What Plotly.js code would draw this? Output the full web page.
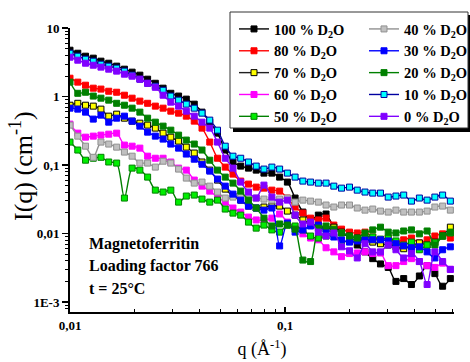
<!DOCTYPE html>
<html><head><meta charset="utf-8">
<script src="https://cdn.plot.ly/plotly-3.0.1.min.js"></script>
<style>html,body{margin:0;padding:0;background:#fff}#chart{width:470px;height:362px}</style>
</head><body><div id="chart"></div>
<script>
const Q = [0.0100,0.01087,0.01181,0.01283,0.01393,0.01514,0.01648,0.01791,0.01945,0.02113,
0.02296,0.02494,0.02710,0.02944,0.03199,0.03475,0.03784,0.04111,0.04467,0.04853,
0.05272,0.05728,0.06223,0.06761,0.07345,0.07980,0.08690,0.09441,0.1026,0.1114,
0.1211,0.1315,0.1429,0.1552,0.1687,0.1832,0.1995,0.2168,0.2355,0.2559,
0.2780,0.3020,0.3281,0.3565,0.3873,0.4217,0.4581,0.4977,0.5408,0.5875];

const I100 = [4.77,4.31,3.90,3.65,3.30,3.08,2.79,2.52,2.28,2.06,1.80,1.57,1.33,1.12,1.02,0.92,0.777,0.594,0.424,0.293,
0.166,0.111,0.0967,0.0904,0.0845,0.0764,0.0764,0.0668,0.0565,0.0330,0.0206,0.0158,0.0186,0.0193,0.0124,0.0105,0.0086,0.0068,0.0054,0.0043,
0.0036,0.0032,0.0020,0.0022,0.0018,0.0024,0.0034,0.0026,0.0017,0.0022];
const I80 = [1.86,1.63,1.47,1.33,1.29,1.20,1.16,1.05,0.95,0.86,0.80,0.727,0.679,0.614,0.574,0.519,0.439,0.347,0.217,0.126,
0.0935,0.0739,0.0584,0.0528,0.0477,0.0461,0.0431,0.0417,0.0330,0.0244,0.0199,0.0168,0.0158,0.0168,0.0133,0.0116,0.0105,0.0102,0.0105,0.0089,
0.0081,0.0086,0.0075,0.0081,0.0086,0.0073,0.0081,0.0092,0.0099,0.0086];
const I70 = [0.75,0.80,0.75,0.727,0.657,0.519,0.555,0.485,0.439,0.41,0.384,0.347,0.293,0.256,0.224,0.183,0.150,0.111,0.0845,0.0604,
0.0446,0.0353,0.0308,0.0252,0.0236,0.0244,0.0252,0.0252,0.0213,0.0186,0.0158,0.0138,0.0129,0.0116,0.0124,0.0105,0.0092,0.0086,0.0081,0.0075,
0.0071,0.0068,0.0064,0.0060,0.0066,0.0073,0.0068,0.0075,0.0092,0.0124];
const I60 = [0.397,0.293,0.256,0.265,0.274,0.283,0.293,0.196,0.189,0.177,0.135,0.126,0.126,0.111,0.0904,0.0845,0.0604,0.0493,0.0417,0.0341,
0.0288,0.0236,0.0206,0.0174,0.0158,0.0158,0.0168,0.0193,0.0147,0.0124,0.0099,0.0086,0.0081,0.0062,0.0054,0.0046,0.0051,0.0052,0.0054,0.0051,
0.0052,0.0034,0.0034,0.0039,0.0043,0.0039,0.0034,0.0032,0.0037,0.0030];
const I50 = [0.217,0.166,0.118,0.126,0.13,0.111,0.107,0.033,0.0904,0.0845,0.0668,0.0431,0.0404,0.0431,0.0288,0.0353,0.0365,0.0319,0.0288,0.0308,
0.0228,0.0199,0.0186,0.0147,0.0120,0.0133,0.0113,0.0105,0.0133,0.0129,0.0113,0.0092,0.0086,0.0092,0.0099,0.0073,0.0081,0.0083,0.0089,0.0089,
0.0083,0.0086,0.0078,0.0068,0.0075,0.0058,0.0068,0.0073,0.0092,0.0102];
const I40 = [0.384,0.265,0.189,0.13,0.217,0.203,0.183,0.155,0.135,0.107,0.107,0.0935,0.114,0.107,0.0875,0.0646,0.0546,0.0565,0.0493,0.0404,
0.0330,0.0341,0.0365,0.0341,0.0330,0.0319,0.0308,0.0319,0.0330,0.0288,0.0308,0.0298,0.0288,0.0261,0.0244,0.0261,0.0261,0.0236,0.0220,0.0228,
0.0213,0.0206,0.0220,0.0206,0.0206,0.0206,0.0213,0.0244,0.0252,0.0220];
const I30 = [0.679,0.657,0.594,0.47,0.537,0.424,0.485,0.519,0.439,0.371,0.303,0.265,0.24,0.203,0.177,0.145,0.122,0.103,0.0817,0.0625,
0.0493,0.0377,0.0308,0.0252,0.0236,0.0220,0.0236,0.0066,0.0142,0.0105,0.0113,0.0129,0.0133,0.0105,0.0089,0.0081,0.0075,0.0078,0.0081,0.0081,
0.0081,0.0078,0.0071,0.0066,0.0062,0.0064,0.0054,0.0044,0.0058,0.0064];
const I20 = [1.63,1.12,1.16,1.02,0.95,0.889,0.80,0.75,0.679,0.594,0.485,0.424,0.371,0.324,0.274,0.232,0.203,0.166,0.118,0.0845,
0.0668,0.0546,0.0417,0.0308,0.0236,0.0168,0.0129,0.0138,0.0133,0.0116,0.0041,0.0039,0.0120,0.0129,0.0116,0.0102,0.0092,0.0086,0.0102,0.0113,
0.0124,0.0105,0.0102,0.0109,0.0113,0.0099,0.0109,0.0068,0.0092,0.0105];
const I10 = [4.31,3.90,3.53,3.30,2.98,2.79,2.61,2.36,2.06,1.80,1.57,1.42,1.24,1.02,0.889,0.777,0.679,0.574,0.454,0.324,
0.189,0.135,0.126,0.111,0.0967,0.0875,0.0935,0.0875,0.0764,0.0668,0.0584,0.0565,0.0546,0.0546,0.0493,0.0461,0.0477,0.0431,0.0404,0.0390,
0.0390,0.0341,0.0353,0.0365,0.0298,0.0330,0.0308,0.0341,0.0365,0.0298];
const I0 = [3.77,3.41,3.08,2.88,2.70,2.52,2.36,2.13,1.99,1.80,1.57,1.37,1.05,0.831,0.727,0.614,0.519,0.424,0.347,0.217,
0.126,0.0904,0.0565,0.0404,0.0330,0.0510,0.0341,0.0288,0.0308,0.0186,0.0138,0.0147,0.0105,0.0092,0.0102,0.0064,0.0056,0.0044,0.0071,0.0054,
0.0054,0.0068,0.0058,0.0044,0.0051,0.0039,0.0018,0.0054,0.0039,0.0030];

const NAMES = ['100 % D<sub>2</sub>O','80 % D<sub>2</sub>O','70 % D<sub>2</sub>O','60 % D<sub>2</sub>O','50 % D<sub>2</sub>O',
               '40 % D<sub>2</sub>O','30 % D<sub>2</sub>O','20 % D<sub>2</sub>O','10 % D<sub>2</sub>O','0 % D<sub>2</sub>O'];
const SERIES = [I100,I80,I70,I60,I50,I40,I30,I20,I10,I0];
const LINE_COL = ['#000000','#ff0000','#202020','#ff00ff','#008000','#909090','#0000ff','#008000','#0000a0','#8000ff'];
const FILL_COL = ['#000000','#ff0000','#ffff00','#ff00ff','#00ee00','#c0c0c0','#0000ff','#008000','#00ffff','#8000ff'];
const EDGE_COL = ['#000000','#ff0000','#000000','#ff00ff','#008000','#909090','#0000ff','#008000','#0000a0','#8000ff'];

const XTICKV = [0.01, 0.1];
const XTICKT = ['0,01', '0,1'];
const YTICKV = [0.001, 0.01, 0.1, 1, 10];
const YTICKT = ['1E-3', '0,01', '0,1', '1', '10'];
const XMINOR = [0.02,0.03,0.04,0.05,0.06,0.07,0.08,0.09,0.2,0.3,0.4,0.5,0.6];
const YMINOR = [0.0002,0.0003,0.0004,0.0005,0.0006,0.0007,0.0008,0.0009,
  0.002,0.003,0.004,0.005,0.006,0.007,0.008,0.009,0.02,0.03,0.04,0.05,0.06,0.07,0.08,0.09,
  0.2,0.3,0.4,0.5,0.6,0.7,0.8,0.9,2,3,4,5,6,7,8,9];
const X_TITLE = 'q (Å<sup>-1</sup>)';
const Y_TITLE = 'I(q) (cm<sup>-1</sup>)';

const SERIF = 'Liberation Serif, Times New Roman, serif';

const traces = SERIES.map((ys, k) => ({
  x: Q, y: ys, type: 'scatter', mode: 'lines+markers',
  name: NAMES[k], legend: k < 5 ? 'legend' : 'legend2',
  line: {color: LINE_COL[k], width: 1.4, shape: 'spline', smoothing: 0.8},
  marker: {symbol: 'square', size: 6, color: FILL_COL[k], line: {color: EDGE_COL[k], width: 1}},
  hoverinfo: 'skip'
}));

// plot area in px: x 70..454, y 28..312
const W = 470, H = 362;
const L = 70, R = 454, T = 28, B = 312;
const px = v => (v - L) / (R - L);
const py = v => (B - v) / (B - T);
const cx = v => v / W;
const cy = v => 1 - v / H;

const legFont = {family: SERIF, size: 14.5, color: '#000', weight: 'bold'};
const legBase = {xref: 'container', yref: 'container', xanchor: 'left', yanchor: 'top',
  bgcolor: 'rgba(0,0,0,0)', borderwidth: 0, font: legFont, traceorder: 'normal'};
const layout = {
  width: W, height: H,
  margin: {l: L, r: W - R, t: T, b: H - B, autoexpand: false},
  paper_bgcolor: '#fff', plot_bgcolor: '#fff',
  showlegend: true,
  xaxis: {
    type: 'log', range: [-2, -0.214], showgrid: false, zeroline: false,
    showline: true, linecolor: '#000', linewidth: 2, mirror: false,
    tickmode: 'array', tickvals: XTICKV, ticktext: XTICKT,
    ticks: 'inside', ticklen: 5, tickwidth: 1.5, tickcolor: '#000',
    minor: {tickvals: XMINOR, ticks: 'inside', ticklen: 3, tickwidth: 1, tickcolor: '#000', showgrid: false},
    tickfont: {family: SERIF, size: 13, color: '#000', weight: 'bold'},
    title: {text: X_TITLE, font: {family: SERIF, size: 18, color: '#000'}, standoff: 11}
  },
  yaxis: {
    type: 'log', range: [-3.146, 1.003], showgrid: false, zeroline: false,
    showline: true, linecolor: '#000', linewidth: 2,
    tickmode: 'array', tickvals: YTICKV, ticktext: YTICKT,
    ticks: 'outside', ticklen: 6, tickwidth: 1.5, tickcolor: '#000',
    minor: {tickvals: YMINOR, ticks: 'outside', ticklen: 3, tickwidth: 1, tickcolor: '#000', showgrid: false},
    tickfont: {family: SERIF, size: 13, color: '#000', weight: 'bold'}
  },
  legend: Object.assign({x: cx(234), y: cy(13)}, legBase),
  legend2: Object.assign({x: cx(364), y: cy(13)}, legBase),
  shapes: [
    {type: 'rect', xref: 'paper', yref: 'paper', x0: px(233), x1: px(472), y0: py(132), y1: py(15),
     fillcolor: '#000', line: {width: 0}, layer: 'above'},
    {type: 'rect', xref: 'paper', yref: 'paper', x0: px(230), x1: px(468), y0: py(128), y1: py(12),
     fillcolor: '#fff', line: {color: '#333', width: 1}, layer: 'above'}
  ],
  annotations: [
    {text: 'Magnetoferritin', x: px(87), y: py(244)},
    {text: 'Loading factor 766', x: px(87), y: py(266)},
    {text: 't = 25°C', x: px(87), y: py(288)}
  ].map(a => Object.assign(a, {xref: 'paper', yref: 'paper', xanchor: 'left', yanchor: 'middle',
      showarrow: false, font: {family: SERIF, size: 16, color: '#000', weight: 'bold'}}))
  .concat([{text: Y_TITLE, xref: 'paper', yref: 'paper', x: px(21), y: py(166), xanchor: 'center', yanchor: 'middle',
      textangle: -90, showarrow: false, font: {family: SERIF, size: 26, color: '#000'}}])
};

Plotly.newPlot('chart', traces, layout, {staticPlot: true, displayModeBar: false});
</script></body></html>
